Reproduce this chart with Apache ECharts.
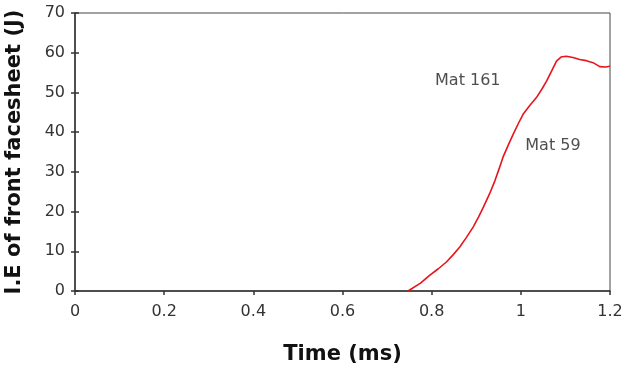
<!DOCTYPE html>
<html>
<head>
<meta charset="utf-8">
<script src="https://cdn.jsdelivr.net/npm/echarts@6/dist/echarts.min.js"></script>
<style>
  html, body { margin: 0; padding: 0; background: #fff; }
  #chart { width: 626px; height: 373px; }
</style>
</head>
<body>
<div id="chart"></div>
<script>
// Internal energy of front facesheet vs time
const timeMs = [0.747, 0.775, 0.796, 0.815, 0.833, 0.848, 0.863, 0.878, 0.893, 0.905, 0.916, 0.93, 0.942, 0.952, 0.96, 0.972, 0.983, 0.995, 1.005, 1.02, 1.035, 1.047, 1.058, 1.07, 1.08, 1.09, 1.102, 1.117, 1.132, 1.147, 1.162, 1.177, 1.19, 1.2];
const energyJ = [0, 2.0, 4.0, 5.6, 7.3, 9.1, 11.1, 13.5, 16.1, 18.6, 21.1, 24.5, 27.8, 31.0, 33.7, 36.8, 39.5, 42.3, 44.5, 46.7, 48.7, 50.8, 52.9, 55.6, 57.9, 58.9, 59.1, 58.8, 58.3, 58.0, 57.5, 56.5, 56.4, 56.6];

const noteNames = ['Mat 161', 'Mat 59'];
const noteTime = [0.881, 1.072];
const noteEnergy = [52.9, 36.6];

const xTicks = [0, 0.2, 0.4, 0.6, 0.8, 1, 1.2];
const yTicks = [0, 10, 20, 30, 40, 50, 60, 70];

const labelFont = 'Verdana, "DejaVu Sans", sans-serif';
const labelColor = '#333';

const chart = echarts.init(document.getElementById('chart'), null, { renderer: 'canvas' });

const option = {
  animation: false,
  backgroundColor: '#fff',
  grid: {
    left: 75, right: 16, top: 13, bottom: 82,
    outerBoundsMode: 'none',
    containLabel: false,
    show: true, borderColor: '#444', borderWidth: 1
  },
  xAxis: {
    type: 'value',
    min: 0, max: 1.2, interval: 0.2,
    name: 'Time (ms)',
    nameLocation: 'middle',
    nameGap: 53,
    nameTextStyle: { fontFamily: labelFont, fontWeight: 'bold', fontSize: 21, color: '#111' },
    axisLine: { show: true, lineStyle: { color: '#333', width: 1.5 } },
    axisTick: { show: true, length: 4, lineStyle: { color: '#333', width: 1.5 } },
    axisLabel: {
      fontFamily: labelFont, fontSize: 16, color: labelColor, margin: 13,
      formatter: v => xTicks.includes(+v.toFixed(1)) ? String(+v.toFixed(1)) : ''
    },
    splitLine: { show: false }
  },
  yAxis: [{
    type: 'value',
    min: 0, max: 70, interval: 10,
    name: 'I.E of front facesheet (J)',
    nameLocation: 'middle',
    nameGap: 50,
    nameTextStyle: { fontFamily: labelFont, fontWeight: 'bold', fontSize: 21, color: '#111' },
    axisLine: { show: true, lineStyle: { color: '#333', width: 1.5 } },
    axisTick: { show: true, length: 4, lineStyle: { color: '#333', width: 1.5 } },
    axisLabel: {
      fontFamily: labelFont, fontSize: 16, color: labelColor, margin: 10,
      formatter: v => yTicks.includes(v) ? String(v) : ''
    },
    splitLine: { show: false }
  }, {
    // inner half of the crossing ticks
    type: 'value',
    position: 'left',
    min: 0, max: 70, interval: 10,
    axisLine: { show: false },
    axisTick: { show: true, inside: true, length: 4, lineStyle: { color: '#333', width: 1.5 } },
    axisLabel: { show: false },
    splitLine: { show: false }
  }],
  series: [{
    name: 'I.E',
    type: 'line',
    data: timeMs.map((t, i) => [t, energyJ[i]]),
    symbol: 'none',
    smooth: false,
    lineStyle: { color: '#e8141b', width: 1.6 },
    z: 3
  }, {
    name: 'notes',
    type: 'scatter',
    data: noteNames.map((n, i) => ({ name: n, value: [noteTime[i], noteEnergy[i]] })),
    symbolSize: 0,
    silent: true,
    label: {
      show: true,
      position: 'inside',
      formatter: p => p.name,
      fontFamily: labelFont,
      fontSize: 16,
      color: '#222'
    }
  }]
};

chart.setOption(option);
</script>
</body>
</html>
